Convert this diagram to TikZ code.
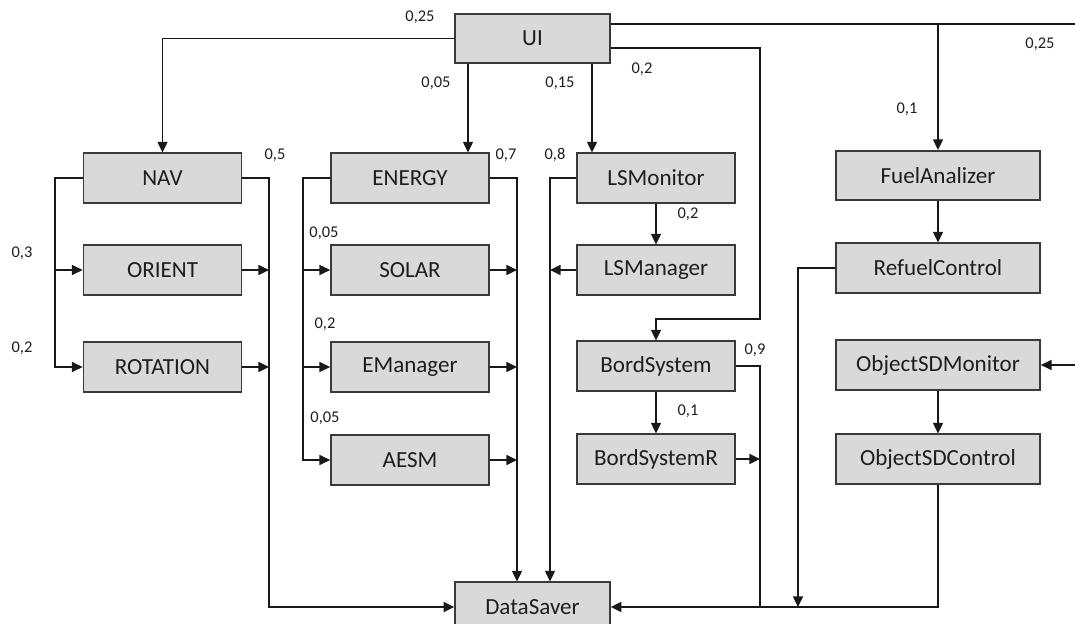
\documentclass[tikz,border=0pt]{standalone}
\usepackage{fontspec}
\setmainfont{Carlito}
\usetikzlibrary{arrows.meta}
\definecolor{boxfill}{HTML}{D9D9D9}
\definecolor{boxline}{HTML}{3A3A3A}
\definecolor{txt}{HTML}{1E1E1E}
\tikzset{
  block/.style={draw=boxline, fill=boxfill, line width=1.3pt, inner sep=0pt,
    minimum width=118.5pt, minimum height=37pt, text=txt,
    font=\fontsize{17.3}{19}\selectfont},
  uiblock/.style={block, minimum width=116pt},
  wideblock/.style={block, minimum width=153pt},
  link/.style={draw=black!90, line width=1.1pt},
  arr/.style={link, -{Triangle[length=8pt,width=7.5pt]}},
  weight/.style={text=txt, inner sep=0pt, font=\fontsize{12.3}{14}\selectfont},
}
\begin{document}
\begin{tikzpicture}[x=0.75pt, y=-0.75pt]
\clip (0,0) rectangle (1075,624);
\fill[white] (0,0) rectangle (1075,624);

% blocks
\node[uiblock]   (UI)        at (532.5,38.5) {UI};
\node[block]     (NAV)       at (162.5,178)  {NAV};
\node[block]     (ORIENT)    at (162.5,270)  {ORIENT};
\node[block]     (ROTATION)  at (162.5,367)  {ROTATION};
\node[block]     (ENERGY)    at (410,178)    {ENERGY};
\node[block]     (SOLAR)     at (410,270)    {SOLAR};
\node[block]     (EManager)  at (410,367)    {EManager};
\node[block]     (AESM)      at (410,460)    {AESM};
\node[block]     (LSMonitor) at (656,178)    {LSMonitor};
\node[block]     (LSManager) at (656,270)    {LSManager};
\node[block]     (Bord)      at (656,366)    {BordSystem};
\node[block]     (BordR)     at (656,459)    {BordSystemR};
\node[wideblock] (Fuel)      at (938,175.5)  {FuelAnalizer};
\node[wideblock] (Refuel)    at (938,268)    {RefuelControl};
\node[wideblock] (OSDMon)    at (938,365)    {ObjectSDMonitor};
\node[wideblock] (OSDCtl)    at (938,459)    {ObjectSDControl};
\node[uiblock]   (Saver)     at (532.5,607)  {DataSaver};

% routing lanes
\coordinate (navL)  at (55,0);
\coordinate (navR)  at (269,0);
\coordinate (enL)   at (303,0);
\coordinate (enR)   at (517,0);
\coordinate (lsL)   at (550,0);
\coordinate (uiE)   at (468,0);
\coordinate (uiL)   at (592,0);
\coordinate (bsR)   at (760,0);
\coordinate (rfL)   at (798,0);
\coordinate (edge)  at (1075,0);
\coordinate (busA)  at (0,24);
\coordinate (busB)  at (0,48);
\coordinate (turn)  at (0,319);

% UI outputs
\draw[arr] (UI.west) -| (NAV.north);
\draw[arr] (UI.south -| uiE) -- (ENERGY.north -| uiE);
\draw[arr] (UI.south -| uiL) -- (LSMonitor.north -| uiL);
\draw[arr] (UI.east |- busB) -| (bsR |- turn) -| (Bord.north);
\draw[link] (UI.east |- busA) -- (edge |- busA);
\draw[arr] (Fuel.north |- busA) -- (Fuel.north);
\draw[arr] (edge |- OSDMon.east) -- (OSDMon.east);

% NAV group
\draw[arr] (NAV.west) -| (navL |- ROTATION.west) -- (ROTATION.west);
\draw[arr] (navL |- ORIENT.west) -- (ORIENT.west);
\draw[arr] (NAV.east) -| (navR |- Saver.west) -- (Saver.west);
\draw[arr] (ORIENT.east) -- (navR |- ORIENT.east);
\draw[arr] (ROTATION.east) -- (navR |- ROTATION.east);

% ENERGY group
\draw[arr] (ENERGY.west) -| (enL |- AESM.west) -- (AESM.west);
\draw[arr] (enL |- SOLAR.west) -- (SOLAR.west);
\draw[arr] (enL |- EManager.west) -- (EManager.west);
\draw[arr] (ENERGY.east) -| (Saver.north -| enR);
\draw[arr] (SOLAR.east) -- (enR |- SOLAR.east);
\draw[arr] (EManager.east) -- (enR |- EManager.east);
\draw[arr] (AESM.east) -- (enR |- AESM.east);

% life support and board systems
\draw[arr] (LSMonitor.west) -| (Saver.north -| lsL);
\draw[arr] (LSManager.west) -- (lsL |- LSManager.west);
\draw[arr] (LSMonitor.south) -- (LSManager.north);
\draw[arr] (Bord.south) -- (BordR.north);
\draw[link] (Bord.east) -| (bsR |- Saver.east);
\draw[arr] (BordR.east) -- (bsR |- BordR.east);

% fuel and object groups
\draw[arr] (Fuel.south) -- (Refuel.north);
\draw[arr] (Refuel.west) -| (rfL |- Saver.east);
\draw[arr] (OSDMon.south) -- (OSDCtl.north);
\draw[arr] (OSDCtl.south) |- (Saver.east);

% weights
\node[weight] (w1)  at (420,17)   {0,25};
\node[weight] (w2)  at (436,83)   {0,05};
\node[weight] (w3)  at (560,83)   {0,15};
\node[weight] (w4)  at (642,69)   {0,2};
\node[weight] (w5)  at (907,109)  {0,1};
\node[weight] (w6)  at (1040,44)  {0,25};
\node[weight] (w7)  at (275,155)  {0,5};
\node[weight] (w8)  at (506,155)  {0,7};
\node[weight] (w9)  at (555,155)  {0,8};
\node[weight] (w10) at (688,214)  {0,2};
\node[weight] (w11) at (22,253)   {0,3};
\node[weight] (w12) at (22,348)   {0,2};
\node[weight] (w13) at (324,233)  {0,05};
\node[weight] (w14) at (325,324)  {0,2};
\node[weight] (w15) at (325,418)  {0,05};
\node[weight] (w16) at (755,350)  {0,9};
\node[weight] (w17) at (688,411)  {0,1};
\end{tikzpicture}
\end{document}
